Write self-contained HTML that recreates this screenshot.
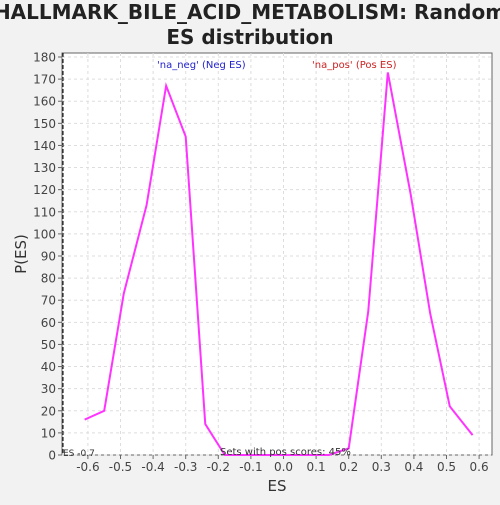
<!DOCTYPE html>
<html><head><meta charset="utf-8"><style>
body{margin:0;background:#f2f2f2;font-family:"Liberation Sans","DejaVu Sans",sans-serif}
svg text{font-family:"DejaVu Sans","Liberation Sans",sans-serif}
</style></head><body>
<svg id="c" width="500" height="500" xmlns="http://www.w3.org/2000/svg">
<rect width="500" height="500" fill="#f2f2f2"/>
<text x="250" y="19" text-anchor="middle" font-size="20" font-weight="bold" fill="#222">HALLMARK_BILE_ACID_METABOLISM: Random</text>
<text x="250" y="44" text-anchor="middle" font-size="20" font-weight="bold" fill="#222">ES distribution</text>
<rect x="62" y="53" width="430" height="402" fill="#fff" stroke="#666"/>
<g id="grid"></g><g id="ticks"></g>
<line x1="63" y1="53" x2="63" y2="455" stroke="#000" stroke-dasharray="4,2"/>
<polyline id="line" fill="none" stroke="#ff33ff" stroke-width="2"/>
<text x="157" y="68" font-size="10" fill="#2222cc">'na_neg' (Neg ES)</text>
<text x="312" y="68" font-size="10" fill="#cc2222">'na_pos' (Pos ES)</text>
<text x="63" y="456" font-size="9" fill="#333">ES -0.7</text>
<text x="220" y="455" font-size="10" fill="#333">Sets with pos scores: 45%</text>
<text x="277" y="491" text-anchor="middle" font-size="15" fill="#333">ES</text>
<text transform="translate(26,254) rotate(-90)" text-anchor="middle" font-size="15" fill="#333">P(ES)</text>
</svg>
<script>
const xTicks=[-0.6,-0.5,-0.4,-0.3,-0.2,-0.1,0.0,0.1,0.2,0.3,0.4,0.5,0.6];
const yTicks=[0,10,20,30,40,50,60,70,80,90,100,110,120,130,140,150,160,170,180];
const esValues=[-0.61,-0.55,-0.49,-0.42,-0.36,-0.30,-0.24,-0.18,-0.12,-0.06,0.0,0.06,0.14,0.20,0.26,0.32,0.39,0.45,0.51,0.58];
const densityValues=[16,20,73,113,167,144,14,0,0,0,0,0,0,3,65,173,118,64,22,9];
const NS="http://www.w3.org/2000/svg";
const X=v=>283.5+v*326;
const Y=v=>455-v*(398/180);
const grid=document.getElementById('grid'),ticks=document.getElementById('ticks');
function mk(t,a,p){const e=document.createElementNS(NS,t);for(const k in a)e.setAttribute(k,a[k]);p.appendChild(e);return e;}
xTicks.forEach(v=>{
 const g=mk('line',{x1:X(v),x2:X(v),y1:53,y2:455,stroke:'#ddd','stroke-dasharray':'3,3'},grid);
 
 
 const t=mk('line',{x1:X(v),x2:X(v),y1:455,y2:459,stroke:'#666'},ticks);
 
 
 const l=mk('text',{x:X(v),y:471,'text-anchor':'middle','font-size':12,fill:'#444'},ticks);
 l.textContent=v.toFixed(1);
 
 
});
yTicks.forEach(v=>{
 const g=mk('line',{x1:62,x2:492,y1:Y(v),y2:Y(v),stroke:'#ddd','stroke-dasharray':'3,3'},grid);
 
 
 const t=mk('line',{x1:58,x2:62,y1:Y(v),y2:Y(v),stroke:'#666'},ticks);
 
 
 const l=mk('text',{x:56,y:Y(v)+4.5,'text-anchor':'end','font-size':12,fill:'#444'},ticks);
 l.textContent=v;
 
 
});
document.getElementById('line').setAttribute('points',esValues.map((v,i)=>X(v)+','+Y(densityValues[i])).join(' '));
</script>
</body></html>
